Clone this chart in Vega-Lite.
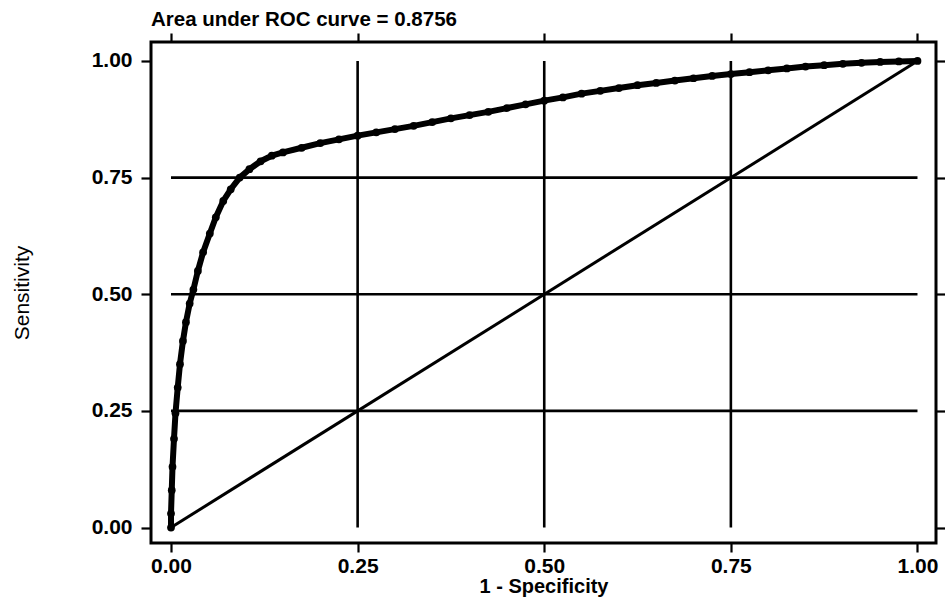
{
  "$schema": "https://vega.github.io/schema/vega-lite/v6.json",
  "width": 785,
  "height": 501,
  "autosize": {"type": "none"},
  "padding": {"left": 151, "top": 42, "right": 9, "bottom": 61},
  "background": "white",
  "config": {
    "view": {"stroke": "black", "strokeWidth": 3},
    "font": "Liberation Sans"
  },
  "title": {
    "text": "Area under ROC curve = 0.8756",
    "anchor": "start",
    "frame": "group",
    "fontSize": 20.5,
    "fontWeight": "bold",
    "font": "Liberation Sans",
    "color": "black",
    "baseline": "alphabetic",
    "offset": -15
  },
  "datasets": {
    "grid": [{"v": 0.25}, {"v": 0.5}, {"v": 0.75}],
    "diag": [{"fpr": 0, "sens": 0}, {"fpr": 1, "sens": 1}],
    "roc": [
      {"fpr": 0, "sens": 0},
      {"fpr": 0, "sens": 0.03},
      {"fpr": 0.001, "sens": 0.08},
      {"fpr": 0.002, "sens": 0.13},
      {"fpr": 0.004, "sens": 0.19},
      {"fpr": 0.006, "sens": 0.245},
      {"fpr": 0.009, "sens": 0.3},
      {"fpr": 0.012, "sens": 0.35},
      {"fpr": 0.016, "sens": 0.4},
      {"fpr": 0.02, "sens": 0.44},
      {"fpr": 0.025, "sens": 0.48},
      {"fpr": 0.03, "sens": 0.51},
      {"fpr": 0.036, "sens": 0.55},
      {"fpr": 0.043, "sens": 0.59},
      {"fpr": 0.052, "sens": 0.63},
      {"fpr": 0.06, "sens": 0.665},
      {"fpr": 0.07, "sens": 0.7},
      {"fpr": 0.08, "sens": 0.725},
      {"fpr": 0.092, "sens": 0.75},
      {"fpr": 0.105, "sens": 0.768},
      {"fpr": 0.12, "sens": 0.785},
      {"fpr": 0.135, "sens": 0.797},
      {"fpr": 0.15, "sens": 0.804},
      {"fpr": 0.175, "sens": 0.814},
      {"fpr": 0.2, "sens": 0.824},
      {"fpr": 0.225, "sens": 0.832},
      {"fpr": 0.25, "sens": 0.84},
      {"fpr": 0.275, "sens": 0.847},
      {"fpr": 0.3, "sens": 0.854},
      {"fpr": 0.325, "sens": 0.861},
      {"fpr": 0.35, "sens": 0.869},
      {"fpr": 0.375, "sens": 0.877},
      {"fpr": 0.4, "sens": 0.884},
      {"fpr": 0.425, "sens": 0.891},
      {"fpr": 0.45, "sens": 0.899},
      {"fpr": 0.475, "sens": 0.907},
      {"fpr": 0.5, "sens": 0.915},
      {"fpr": 0.525, "sens": 0.922},
      {"fpr": 0.55, "sens": 0.93},
      {"fpr": 0.575, "sens": 0.936},
      {"fpr": 0.6, "sens": 0.942},
      {"fpr": 0.625, "sens": 0.948},
      {"fpr": 0.65, "sens": 0.953},
      {"fpr": 0.675, "sens": 0.958},
      {"fpr": 0.7, "sens": 0.963},
      {"fpr": 0.725, "sens": 0.968},
      {"fpr": 0.75, "sens": 0.972},
      {"fpr": 0.775, "sens": 0.976},
      {"fpr": 0.8, "sens": 0.98},
      {"fpr": 0.825, "sens": 0.984},
      {"fpr": 0.85, "sens": 0.988},
      {"fpr": 0.875, "sens": 0.991},
      {"fpr": 0.9, "sens": 0.994},
      {"fpr": 0.925, "sens": 0.996},
      {"fpr": 0.95, "sens": 0.998},
      {"fpr": 0.975, "sens": 0.999},
      {"fpr": 1, "sens": 1}
    ]
  },
  "layer": [
    {
      "data": {"name": "grid"},
      "mark": {"type": "rule", "color": "black", "strokeWidth": 2.6},
      "encoding": {
        "x": {
          "field": "v", "type": "quantitative",
          "scale": {"domain": [-0.0268, 1.0248], "nice": false, "zero": false},
          "axis": {
            "orient": "bottom", "values": [0, 0.25, 0.5, 0.75, 1], "format": ".2f",
            "domain": false, "grid": false, "tickSize": 9, "tickWidth": 2.2, "tickColor": "black",
            "labelFontSize": 21, "labelFontWeight": "bold", "labelColor": "black", "labelPadding": 3,
            "labelFont": "Liberation Sans",
            "title": "1 - Specificity", "titleFontSize": 20, "titleFontWeight": "bold",
            "titleColor": "black", "titlePadding": 0, "titleFont": "Liberation Sans"
          }
        },
        "y": {
          "datum": 0, "type": "quantitative",
          "scale": {"domain": [-0.0332, 1.0407], "nice": false, "zero": false},
          "axis": {
            "orient": "left", "values": [0, 0.25, 0.5, 0.75, 1], "format": ".2f",
            "domain": false, "grid": false, "tickSize": 10, "tickWidth": 2.2, "tickColor": "black",
            "labelFontSize": 21, "labelFontWeight": "bold", "labelColor": "black", "labelPadding": 9,
            "labelFont": "Liberation Sans",
            "title": "Sensitivity", "titleFontSize": 21, "titleFontWeight": "normal",
            "titleColor": "black", "titlePadding": 59, "titleFont": "Liberation Sans"
          }
        },
        "y2": {"datum": 1}
      }
    },
    {
      "data": {"name": "grid"},
      "mark": {"type": "rule", "color": "black", "strokeWidth": 2.6},
      "encoding": {
        "y": {
          "field": "v", "type": "quantitative",
          "axis": {
            "orient": "right", "values": [0, 0.25, 0.5, 0.75, 1], "labels": false,
            "domain": false, "grid": false, "tickSize": 9, "tickWidth": 2.2, "tickColor": "black",
            "title": null
          }
        },
        "x": {
          "datum": 0, "type": "quantitative",
          "axis": {
            "orient": "top", "values": [0, 0.25, 0.5, 0.75, 1], "labels": false,
            "domain": false, "grid": false, "tickSize": 9, "tickWidth": 2.2, "tickColor": "black",
            "title": null
          }
        },
        "x2": {"datum": 1}
      }
    },
    {
      "data": {"name": "diag"},
      "mark": {"type": "line", "color": "black", "strokeWidth": 3},
      "encoding": {
        "x": {"field": "fpr", "type": "quantitative", "axis": null},
        "y": {"field": "sens", "type": "quantitative", "axis": null}
      }
    },
    {
      "data": {"name": "roc"},
      "mark": {"type": "line", "color": "black", "strokeWidth": 6, "strokeJoin": "round", "strokeCap": "round"},
      "encoding": {
        "x": {"field": "fpr", "type": "quantitative", "axis": null},
        "y": {"field": "sens", "type": "quantitative", "axis": null}
      }
    },
    {
      "data": {"name": "roc"},
      "mark": {"type": "point", "filled": true, "color": "black", "size": 60, "opacity": 1},
      "encoding": {
        "x": {"field": "fpr", "type": "quantitative", "axis": null},
        "y": {"field": "sens", "type": "quantitative", "axis": null}
      }
    }
  ],
  "resolve": {"axis": {"x": "independent", "y": "independent"}}
}
